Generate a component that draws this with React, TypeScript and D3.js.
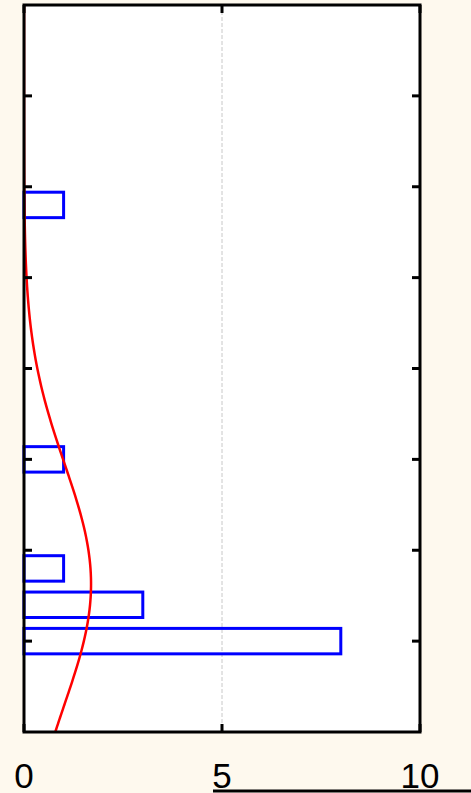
import { useEffect, useRef } from 'react';
import * as d3 from 'd3';

// histogram bins (horizontal bars): bin centre on the vertical axis, count on the horizontal one
const binCenters = [1.0, 1.4, 1.8, 3.0, 5.8];
const binCounts = [8, 3, 1, 1, 1];
const binWidth = 0.4;
const xTicks = [0, 5, 10];
const yTicks = [1, 2, 3, 4, 5, 6, 7];

const App = () => {
  const svgRef = useRef<SVGSVGElement>(null!);

  useEffect(() => {
    const width = 471;
    const height = 793;
    const plot = { left: 24, right: 420, top: 5, bottom: 732 };

    const xScale = d3.scaleLinear().domain([0, 10]).range([plot.left, plot.right]);
    const yScale = d3.scaleLinear().domain([0, 8]).range([plot.bottom, plot.top]);

    const svg = d3.select(svgRef.current);
    svg.attr('width', width).attr('height', height);

    svg.append('rect').attr('width', width).attr('height', height).attr('fill', '#fef9ee');
    svg
      .append('rect')
      .attr('x', plot.left)
      .attr('y', plot.top)
      .attr('width', plot.right - plot.left)
      .attr('height', plot.bottom - plot.top)
      .attr('fill', '#fff');

    svg
      .append('defs')
      .append('clipPath')
      .attr('id', 'plot-clip')
      .append('rect')
      .attr('x', plot.left)
      .attr('y', plot.top)
      .attr('width', plot.right - plot.left)
      .attr('height', plot.bottom - plot.top);

    // grid line at 5
    svg
      .append('line')
      .attr('x1', xScale(5))
      .attr('x2', xScale(5))
      .attr('y1', plot.top)
      .attr('y2', plot.bottom)
      .attr('stroke', '#c8c8c8')
      .attr('stroke-width', 1)
      .attr('stroke-dasharray', '4,2');

    // bars
    const barThick = binWidth * 0.7;
    svg
      .append('g')
      .selectAll('rect')
      .data(binCenters)
      .enter()
      .append('rect')
      .attr('x', xScale(0))
      .attr('y', d => yScale(d + barThick / 2))
      .attr('width', (_, i) => xScale(binCounts[i]) - xScale(0))
      .attr('height', d => yScale(d - barThick / 2) - yScale(d + barThick / 2))
      .attr('fill', 'none')
      .attr('stroke', '#0000ff')
      .attr('stroke-width', 3);

    // normal fit
    const samples = binCenters.flatMap((c, i) => Array(binCounts[i]).fill(c));
    const mu = d3.mean(samples) ?? 0;
    const sigma = d3.deviation(samples) ?? 1;
    const n = samples.length;
    const ys = d3.range(0, 8.001, 0.05);
    const fit = (y: number) =>
      ((n * binWidth) / (sigma * Math.sqrt(2 * Math.PI))) *
      Math.exp(-((y - mu) ** 2) / (2 * sigma * sigma));
    const line = d3
      .line<number>()
      .x(y => xScale(fit(y)))
      .y(y => yScale(y))
      .curve(d3.curveBasis);
    svg
      .append('path')
      .attr('d', line(ys))
      .attr('clip-path', 'url(#plot-clip)')
      .attr('fill', 'none')
      .attr('stroke', '#ff0000')
      .attr('stroke-width', 2.5);

    // ticks
    const tickLen = 8;
    const ticks = svg.append('g').attr('stroke', '#000').attr('stroke-width', 3);
    yTicks.forEach(t => {
      ticks
        .append('line')
        .attr('x1', plot.left)
        .attr('x2', plot.left + tickLen)
        .attr('y1', yScale(t))
        .attr('y2', yScale(t));
      ticks
        .append('line')
        .attr('x1', plot.right)
        .attr('x2', plot.right - tickLen)
        .attr('y1', yScale(t))
        .attr('y2', yScale(t));
    });
    xTicks.forEach(t => {
      ticks
        .append('line')
        .attr('x1', xScale(t))
        .attr('x2', xScale(t))
        .attr('y1', plot.bottom)
        .attr('y2', plot.bottom - tickLen);
      ticks
        .append('line')
        .attr('x1', xScale(t))
        .attr('x2', xScale(t))
        .attr('y1', plot.top)
        .attr('y2', plot.top + tickLen);
    });

    // frame
    svg
      .append('rect')
      .attr('x', plot.left)
      .attr('y', plot.top)
      .attr('width', plot.right - plot.left)
      .attr('height', plot.bottom - plot.top)
      .attr('fill', 'none')
      .attr('stroke', '#000')
      .attr('stroke-width', 3);

    // tick labels
    svg
      .append('g')
      .selectAll('text')
      .data(xTicks)
      .enter()
      .append('text')
      .attr('x', d => xScale(d))
      .attr('y', 788)
      .attr('text-anchor', 'middle')
      .attr('font-family', '"Liberation Sans", Arial, sans-serif')
      .attr('font-size', 35)
      .attr('fill', '#000')
      .text(d => d);

    // stray rule under the labels
    svg
      .append('line')
      .attr('x1', 213)
      .attr('x2', width)
      .attr('y1', 791)
      .attr('y2', 791)
      .attr('stroke', '#000')
      .attr('stroke-width', 3);

    return () => {
      if (svgRef.current) svgRef.current.innerHTML = '';
    };
  }, []);

  return <svg ref={svgRef} style={{ position: 'fixed', left: 0, top: 0, display: 'block' }}></svg>;
};

export default App;
